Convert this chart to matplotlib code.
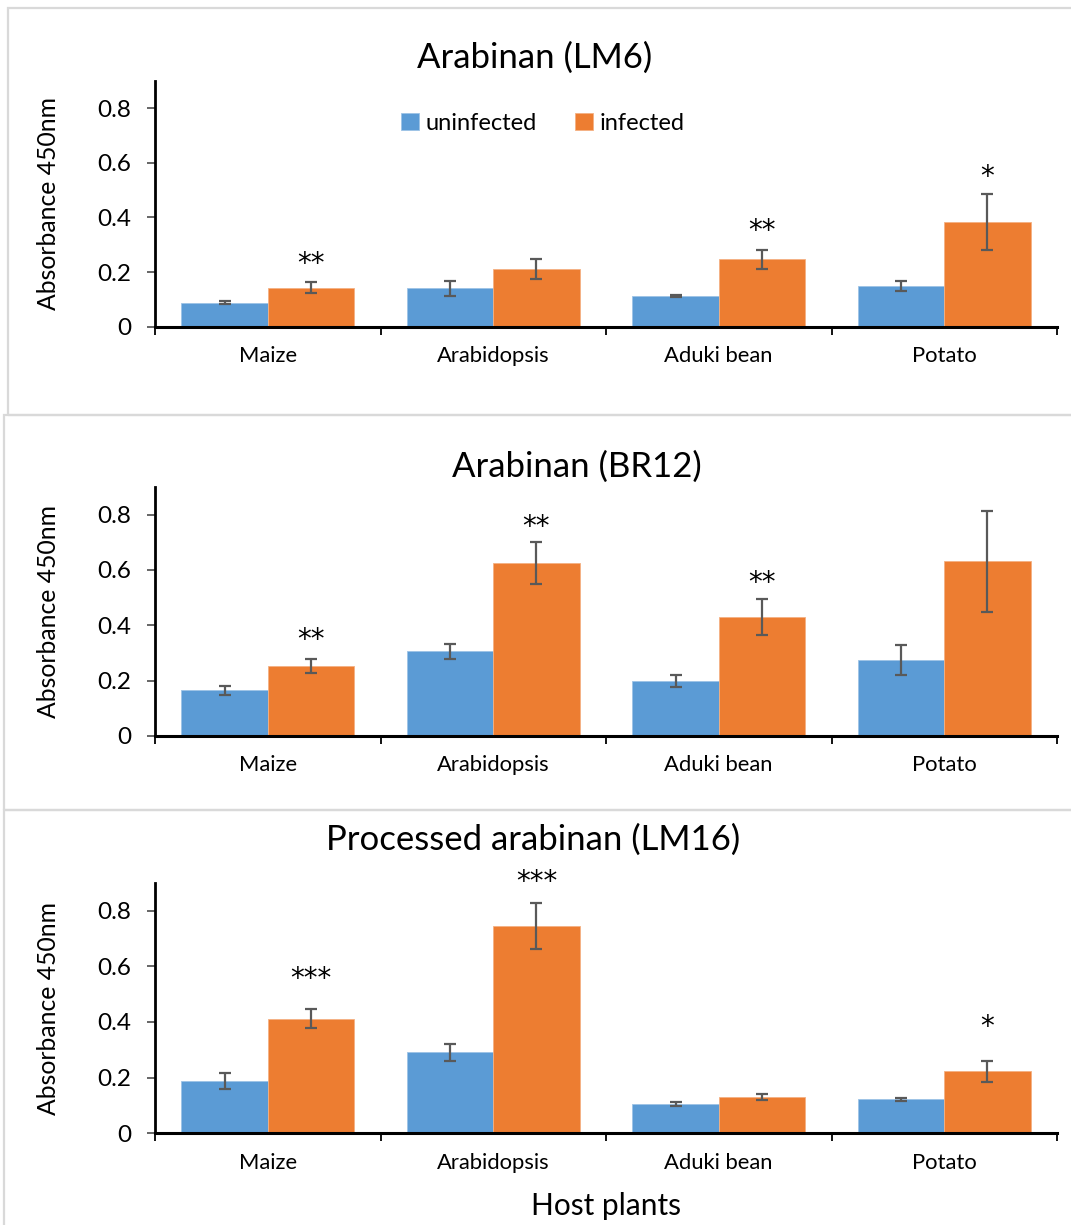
import numpy as np
import matplotlib
matplotlib.use("Agg")
import matplotlib.pyplot as plt
from matplotlib.patches import Rectangle

plt.rcParams['font.family'] = ['Lato', 'DejaVu Sans']

## Data
plants = ['Maize', 'Arabidopsis', 'Aduki bean', 'Potato']
titles = ['Arabinan (LM6)', 'Arabinan (BR12)', 'Processed arabinan (LM16)']

uninf_mean = [[0.088, 0.140, 0.112, 0.150],
              [0.166, 0.307, 0.198, 0.275],
              [0.188, 0.291, 0.106, 0.122]]
uninf_err = [[0.006, 0.026, 0.004, 0.018],
             [0.016, 0.027, 0.021, 0.053],
             [0.030, 0.030, 0.007, 0.006]]
inf_mean = [[0.143, 0.212, 0.246, 0.383],
            [0.252, 0.625, 0.430, 0.632],
            [0.411, 0.744, 0.129, 0.223]]
inf_err = [[0.019, 0.037, 0.036, 0.101],
           [0.025, 0.077, 0.065, 0.183],
           [0.034, 0.082, 0.011, 0.038]]

## significance stars over the infected bars, and their heights
stars = [['**', '', '**', '*'],
         ['**', '**', '**', ''],
         ['***', '***', '', '*']]
star_y = [[0.250, 0, 0.372, 0.571],
          [0.369, 0.777, 0.575, 0],
          [0.577, 0.925, 0, 0.402]]

blue = '#5B9BD5'
orange = '#ED7D31'
errc = '#595959'

W, H = 1071, 1225
fig = plt.figure(figsize=(W / 100, H / 100), dpi=100)

## panel frames (pixel boxes)
frames = [(8, 8, 1100, 407), (4, 415, 1100, 395), (4, 810, 1100, 430)]
for fx, fy, fw, fh in frames:
    fig.patches.append(Rectangle((fx / W, 1 - (fy + fh) / H), fw / W, fh / H,
                                 transform=fig.transFigure, fill=False,
                                 edgecolor='#d9d9d9', lw=1.6))

## axes boxes: (top px, zero px)
axes_px = [(80.8, 326.7), (487.0, 736.0), (882.8, 1133.3)]
title_px = [(535, 58), (577, 467), (533, 840)]

x = np.arange(len(plants))
w = 0.383

for i in range(3):
    top, zero = axes_px[i]
    ax = fig.add_axes([155 / W, 1 - zero / H, (1057 - 155) / W, (zero - top) / H])
    ekw = dict(ecolor=errc, elinewidth=1.6, capsize=4.5, capthick=1.6)
    ax.bar(x - w / 2, uninf_mean[i], w, yerr=uninf_err[i], color=blue,
           edgecolor='#9dc3e6', linewidth=0.6, error_kw=ekw, label='uninfected', zorder=2)
    ax.bar(x + w / 2, inf_mean[i], w, yerr=inf_err[i], color=orange,
           edgecolor='#f4b183', linewidth=0.6, error_kw=ekw, label='infected', zorder=2)
    for j in range(len(plants)):
        if stars[i][j]:
            ax.annotate(stars[i][j], (x[j] + w / 2, star_y[i][j]), xytext=(0, -14),
                        textcoords='offset pixels', ha='center', va='baseline',
                        fontsize=20, family='DejaVu Sans', color='black',
                        annotation_clip=False)

    ax.set_xlim(-0.5, 3.5)
    ax.set_ylim(0, 0.9)
    ax.set_yticks([0, 0.2, 0.4, 0.6, 0.8])
    ax.set_yticklabels(['0', '0.2', '0.4', '0.6', '0.8'])
    ax.tick_params(axis='y', direction='out', length=6, width=1.3, color=errc,
                   labelsize=17.5, pad=11)
    ax.set_xticks(np.arange(-0.5, 4, 1))
    ax.set_xticklabels([])
    ax.set_xticks(x, minor=True)
    ax.set_xticklabels(plants, minor=True)
    ax.tick_params(axis='x', which='major', direction='out', length=6, width=1.3, color='black')
    ax.tick_params(axis='x', which='minor', length=0, labelsize=15.8, pad=14)
    for s in ['top', 'right']:
        ax.spines[s].set_visible(False)
    ax.spines['left'].set_linewidth(2)
    ax.spines['bottom'].set_linewidth(2.2)
    ax.set_ylabel('Absorbance 450nm', fontsize=17.8, labelpad=27)
    tx, ty = title_px[i]
    fig.text(tx / W, 1 - ty / H, titles[i], ha='center', va='center', fontsize=25)

    if i == 0:
        ax.legend(loc='center', bbox_to_anchor=(543 / W, 1 - 123 / H),
                  bbox_transform=fig.transFigure, ncol=2, frameon=False,
                  fontsize=17, handlelength=0.75, handleheight=0.75,
                  handletextpad=0.3, columnspacing=1.6)
    if i == 2:
        ax.set_xlabel('Host plants', fontsize=21.5, labelpad=14)

fig.savefig('out.png', dpi=100)
